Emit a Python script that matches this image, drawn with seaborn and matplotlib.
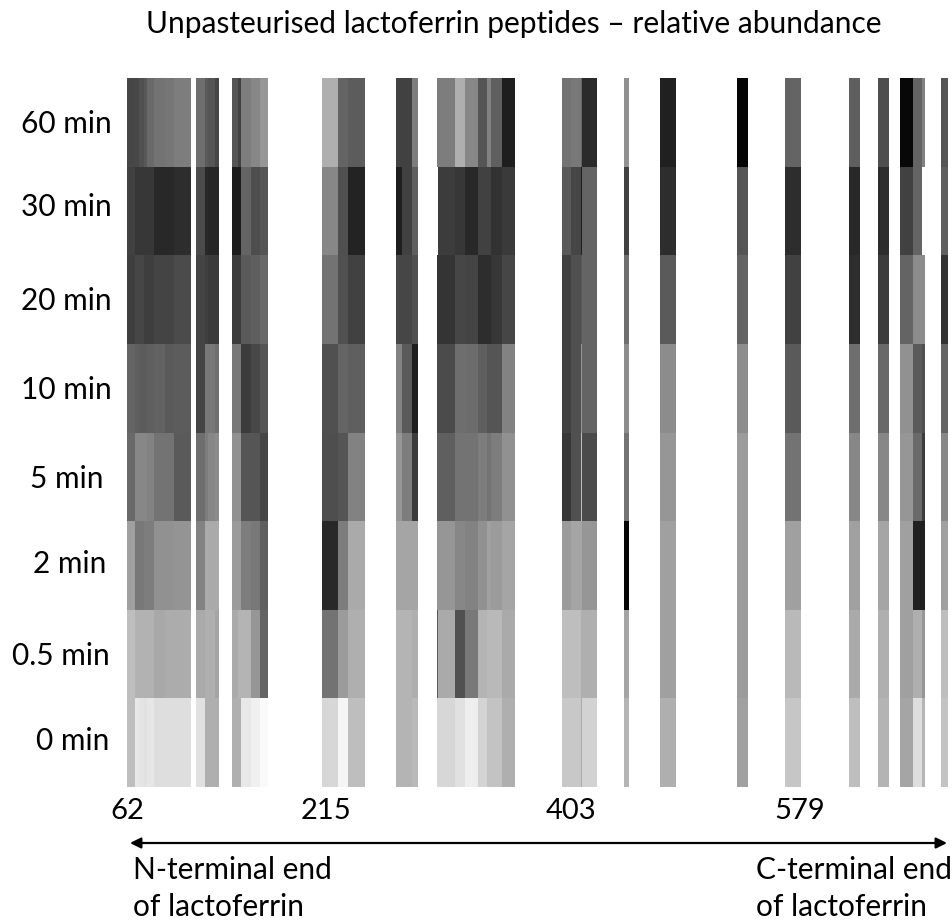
import matplotlib
matplotlib.use('Agg')
import matplotlib.pyplot as plt
from matplotlib.transforms import Affine2D
import numpy as np
import seaborn as sns

plt.rcParams['font.family'] = ['Lato', 'DejaVu Sans']

time_labels = ['60 min', '30 min', '20 min', '10 min', '5 min', '2 min', '0.5 min', '0 min']
residue_ticks = [62, 215, 403, 579]
first_residue = 62
last_residue = 693

# residue range covered by each stretch of peptides
starts = [62, 68, 71, 75, 77, 83, 91, 98, 115, 122, 124, 130, 143, 147, 150, 157, 164,
          212, 224, 232, 269, 273, 281, 300, 301, 314, 322, 332, 339, 342, 350,
          396, 403, 411, 412, 444, 472, 531, 568, 617, 639, 656, 666, 673, 688]
ends = [68, 71, 75, 77, 83, 91, 98, 111, 122, 124, 130, 133, 147, 150, 157, 164, 170,
        224, 232, 245, 273, 281, 286, 301, 314, 322, 332, 339, 342, 350, 360,
        403, 411, 412, 423, 448, 484, 539, 580, 625, 648, 666, 673, 675, 693]

# grey level for each stretch (0 black, 255 white)
nan = np.nan
min60 = [70, 72, 80, 88, 105, 115, 118, 125, 110, 90, 85, 70, 85, 65, 125, 135, 150,
         175, 100, 92, 65, 65, 125, 125, 125, 175, 135, 85, 130, 95, 30,
         115, 120, 100, 42, 145, 32, 5, 100, 95, 78, 8, 100, 130, 85]
min30 = [65, 55, 55, 55, 55, 40, 40, 45, 75, 40, 38, 38, 28, 28, 100, 78, 85,
         135, 80, 35, 30, 65, 95, nan, 60, 55, 40, 65, 65, 50, 58,
         90, 70, 30, 100, 65, 45, 85, 45, 40, 45, 65, 100, nan, 95]
min20 = [62, 70, 70, 62, 62, 68, 68, 75, 68, 62, 58, 58, 60, 60, 90, 95, 105,
         115, 80, 65, 70, 70, 80, 50, 52, 70, 68, 45, 45, 55, 70,
         65, 80, 90, 100, 110, 90, 100, 65, 45, 60, 100, 140, 140, 50]
min10 = [100, 95, 92, 92, 95, 98, 90, 92, 68, 120, 120, 110, 120, 120, 60, 72, 85,
         80, 100, 95, 130, 90, 30, 75, 75, 110, 108, 95, 85, 85, 130,
         65, 80, 150, 100, 140, 140, 140, 90, 110, 105, 145, 90, 80, 100]
min5 = [105, 135, 135, 135, 130, 115, 115, 90, 110, 125, 135, 140, 145, 145, 85, 85, 70,
        78, 85, 130, 150, 125, 60, 95, 95, 115, 115, 125, 115, 125, 145,
        55, 80, 190, 75, 115, 150, 155, 115, 135, 135, 150, 105, 60, 135]
min2 = [160, 120, 120, 125, 125, 145, 145, 148, 130, 170, 170, 170, 155, 155, 125, 120, 95,
        40, 125, 170, 165, 165, 165, 150, 150, 135, 130, 145, 160, 155, 165,
        155, 165, 165, 150, 5, 160, 155, 160, 160, 165, 160, 32, 32, 160]
min05 = [190, 178, 178, 178, 178, 168, 172, 172, 170, 175, 175, 165, 170, 180, 180, 150, 100,
         115, 155, 175, 180, 180, 175, 90, 170, 80, 120, 180, 185, 185, 170,
         190, 190, 175, 175, 165, 160, 155, 185, 170, 175, 160, 175, 150, 190]
min0 = [190, 232, 228, 225, 230, 222, 222, 222, 225, 175, 175, 175, 175, 175, 232, 240, 250,
        215, 245, 190, 180, 180, 185, 215, 215, 225, 238, 212, 195, 195, 175,
        200, 200, 170, 210, 180, 175, 160, 198, 190, 180, 165, 222, 180, 195]

rows = [min60, min30, min20, min10, min5, min2, min05, min0]

# one column per residue, gaps stay empty
abundance = np.full((len(rows), last_residue - first_residue), np.nan)
for i, row in enumerate(rows):
    for start, end, grey in zip(starts, ends, row):
        abundance[i, start - first_residue:end - first_residue] = grey

fig = plt.figure(figsize=(9.52, 9.23), dpi=100)
ax = fig.add_axes([127 / 952, 1 - 787 / 923, 821 / 952, 709 / 923])
sns.heatmap(abundance, cmap='gray', vmin=0, vmax=255, cbar=False, ax=ax,
            xticklabels=False, yticklabels=time_labels)

ax.set_xticks([r - first_residue for r in residue_ticks])
ax.set_xticklabels(residue_ticks, fontsize=21, rotation=0)
ax.tick_params(axis='x', length=0, pad=8)
ax.tick_params(axis='y', length=0, pad=44)

# the time labels were placed by hand in the original, so nudge them a little
label_dx = [0, 0, 0, 0, 1, 4, -5, 7]
label_dy = [1, 6, 1, 1, 0, 4, 1, 4]
for label, dx, dy in zip(ax.get_yticklabels(), label_dx, label_dy):
    label.set_rotation(0)
    label.set_fontsize(21.5)
    label.set_ha('center')
    label.set_va('center_baseline')
    label.set_transform(label.get_transform() + Affine2D().translate(dx, dy))

fig.text(514 / 952, 1 - 24 / 923, 'Unpasteurised lactoferrin peptides \u2013 relative abundance',
         fontsize=21.5, ha='center', va='center')

# double arrow under the map
ax.annotate('', xy=(130 / 952, 1 - 843 / 923), xytext=(947 / 952, 1 - 843 / 923),
            xycoords='figure fraction', textcoords='figure fraction',
            arrowprops=dict(arrowstyle='<|-|>', color='black', lw=1.6, mutation_scale=16,
                            shrinkA=0, shrinkB=0))

fig.text(133 / 952, 1 - 870 / 923, 'N-terminal end', fontsize=21.5, va='center')
fig.text(133 / 952, 1 - 907 / 923, 'of lactoferrin', fontsize=21.5, va='center')
fig.text(756 / 952, 1 - 870 / 923, 'C-terminal end', fontsize=21.5, va='center')
fig.text(756 / 952, 1 - 907 / 923, 'of lactoferrin', fontsize=21.5, va='center')

fig.savefig('out.png', dpi=100)
